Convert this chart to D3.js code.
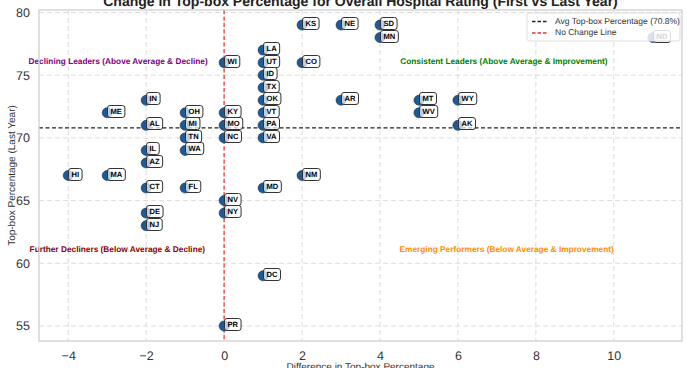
<!DOCTYPE html>
<html><head><meta charset="utf-8">
<script src="https://cdn.jsdelivr.net/npm/d3@7"></script>
<style>body{margin:0;background:#fff}svg{display:block}text{font-family:"Liberation Sans",Arial,sans-serif;text-rendering:geometricPrecision}</style>
</head><body><svg id="c" width="687" height="368"></svg>
<script>
const states = ["KS","NE","SD","MN","ND","LA","WI","UT","CO","ID","TX","IN","OK","AR","MT","WY","ME","OH","KY","VT","WV","AL","MI","MO","PA","AK","TN","NC","VA","IL","WA","AZ","HI","MA","NM","CT","FL","MD","NV","DE","NY","NJ","DC","PR"];
const diffValues = [2,3,4,4,11,1,0,1,2,1,1,-2,1,3,5,6,-3,-1,0,1,5,-2,-1,0,1,6,-1,0,1,-2,-1,-2,-4,-3,2,-2,-1,1,0,-2,0,-2,1,0];
const lastValues = [79,79,79,78,78,77,76,76,76,75,74,73,73,73,73,73,72,72,72,72,72,71,71,71,71,71,70,70,70,69,69,68,67,67,67,66,66,66,65,64,64,63,59,55];
const avgValue = 70.8;
const xTicks = [-4,-2,0,2,4,6,8,10];
const yTicks = [55,60,65,70,75,80];
const quadrantLabels = ["Declining Leaders (Above Average & Decline)","Consistent Leaders (Above Average & Improvement)","Further Decliners (Below Average & Decline)","Emerging Performers (Below Average & Improvement)"];
const quadrantX = [-2.72,7.18,-2.74,7.25];
const quadrantY = [76.1,76.1,61.1,61.1];
const quadrantColors = ["#800080","#008000","#8b0000","#ff8c00"];
const legendLabels = ["Avg Top-box Percentage (70.8%)","No Change Line"];

const svg = d3.select("#c");
const L=39,R=682,T=10,B=341;
const x = d3.scaleLinear().domain([-4.75,11.75]).range([L,R]);
const y = d3.scaleLinear().domain([53.8,80.2]).range([B,T]);

// grid
const g = svg.append("g");
g.selectAll(".gx").data(xTicks).enter().append("line")
 .attr("x1",d=>x(d)).attr("x2",d=>x(d)).attr("y1",T).attr("y2",B)
 .attr("stroke","#dcdcdc").attr("stroke-dasharray","5,3").attr("stroke-width",1);
g.selectAll(".gy").data(yTicks).enter().append("line")
 .attr("y1",d=>y(d)).attr("y2",d=>y(d)).attr("x1",L).attr("x2",R)
 .attr("stroke","#dcdcdc").attr("stroke-dasharray","5,3").attr("stroke-width",1);

// axes
const xa = svg.append("g").attr("transform",`translate(0,${B})`)
 .call(d3.axisBottom(x).tickValues(xTicks).tickSize(0).tickPadding(10).tickFormat(d=>d<0?"\u2212"+Math.abs(d):d));
const ya = svg.append("g").attr("transform",`translate(${L},0)`)
 .call(d3.axisLeft(y).tickValues(yTicks).tickSize(0).tickPadding(9));
[xa,ya].forEach(a=>{a.select(".domain").remove();a.selectAll("text").attr("font-size","12.5px").attr("fill","#333").attr("font-family","Liberation Sans, Arial, sans-serif");});

// quadrant labels
svg.selectAll(".ql").data(quadrantLabels).enter().append("text")
 .attr("x",(d,i)=>x(quadrantX[i])).attr("y",(d,i)=>y(quadrantY[i]))
 .attr("text-anchor","middle").attr("dominant-baseline","middle")
 .attr("font-size","8.3px").attr("font-weight","bold")
 .attr("fill",(d,i)=>quadrantColors[i]).text(d=>d);

// reference lines
svg.append("line").attr("x1",L).attr("x2",R).attr("y1",y(avgValue)).attr("y2",y(avgValue))
 .attr("stroke","#222").attr("stroke-width",1.4).attr("stroke-dasharray","4,2.5");
svg.append("line").attr("x1",x(0)).attr("x2",x(0)).attr("y1",T).attr("y2",B)
 .attr("stroke","#e8302c").attr("stroke-width",1.2).attr("stroke-dasharray","4,2.5");

// points
const pts = svg.append("g");
states.forEach((s,i)=>{
  const px=x(diffValues[i]), py=y(lastValues[i]);
  pts.append("circle").attr("cx",px).attr("cy",py).attr("r",5)
   .attr("fill","#1f5a94").attr("stroke","#0d2f55").attr("stroke-width",0.6);
});
const labs = svg.append("g").attr("opacity",0.999);
states.forEach((s,i)=>{
  const px=Math.round(x(diffValues[i])), py=Math.round(y(lastValues[i]));
  const lab = labs.append("g");
  const r = lab.append("rect");
  const t = lab.append("text").attr("x",px+3.5).attr("y",py-1.5)
   .attr("font-size","7.6px").attr("font-weight","bold").attr("fill","#000")
   .attr("dominant-baseline","middle").text(s);
  const w = t.node().getComputedTextLength();
  r.attr("x",px+0.5).attr("y",py-7.5).attr("width",w+6).attr("height",12)
   .attr("rx",2.5).attr("fill","rgba(255,255,255,0.7)").attr("stroke","#333").attr("stroke-width",1);
});

// spines
svg.append("rect").attr("x",L).attr("y",T).attr("width",R-L).attr("height",B-T)
 .attr("fill","none").attr("stroke","#cfcfcf").attr("stroke-width",1.3);

// legend
const lg = svg.append("g");
lg.append("rect").attr("x",527).attr("y",13).attr("width",153).attr("height",28).attr("rx",2.5)
 .attr("fill","rgba(255,255,255,0.82)").attr("stroke","#ddd");
const lcolors=["#222","#e8302c"];
legendLabels.forEach((d,i)=>{
  const ly=21.5+i*11.5;
  lg.append("line").attr("x1",532).attr("x2",547).attr("y1",ly).attr("y2",ly)
   .attr("stroke",lcolors[i]).attr("stroke-width",1.3).attr("stroke-dasharray","3.5,2");
  lg.append("text").attr("x",555).attr("y",ly).attr("dominant-baseline","middle")
   .attr("font-size","8.5px").attr("fill","#333").text(d);
});

// title & labels
svg.append("text").attr("x",(L+R)/2).attr("y",6).attr("text-anchor","middle")
 .attr("font-size","14px").attr("font-weight","bold").attr("fill","#222")
 .text("Change in Top-box Percentage for Overall Hospital Rating (First vs Last Year)");
svg.append("text").attr("x",(L+R)/2).attr("y",370).attr("text-anchor","middle")
 .attr("font-size","10px").attr("fill","#333").text("Difference in Top-box Percentage");
svg.append("text").attr("transform",`translate(12,${(T+B)/2}) rotate(-90)`).attr("text-anchor","middle")
 .attr("dominant-baseline","middle").attr("font-size","10px").attr("fill","#333").text("Top-box Percentage (Last Year)");
</script></body></html>
